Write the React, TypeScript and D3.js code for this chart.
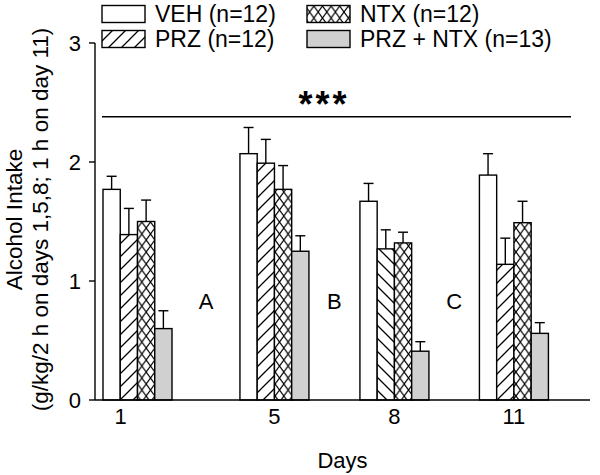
import React from 'react';
import * as d3 from 'd3';

// ---- data ----
const days = ['1', '5', '8', '11'];
const series = ['VEH (n=12)', 'PRZ (n=12)', 'NTX (n=12)', 'PRZ + NTX (n=13)'];
const vehMean = [1.77, 2.07, 1.67, 1.89];
const vehSem = [0.11, 0.22, 0.15, 0.18];
const przMean = [1.39, 1.99, 1.27, 1.14];
const przSem = [0.22, 0.2, 0.16, 0.22];
const ntxMean = [1.5, 1.77, 1.32, 1.49];
const ntxSem = [0.18, 0.2, 0.09, 0.18];
const comboMean = [0.6, 1.25, 0.41, 0.56];
const comboSem = [0.15, 0.13, 0.08, 0.09];
const yTicks = [0, 1, 2, 3];
const gapLabels = ['A', 'B', 'C'];
const sigLabel = '***';
const sigValue = 2.38;
const gapLabelValue = 0.83;

// ---- layout / style ----
const W = 600;
const H = 475;
const FONT = 'Liberation Sans, Arial, Helvetica, sans-serif';
const daySlots = [0, 1.146, 2.15, 3.15];
const tickShift = [-17, 0, 0, 0];
const przHatchDir = ['fwd', 'fwd', 'back', 'fwd'];

export default function App() {
  const y = d3.scaleLinear().domain([0, 3]).range([400, 43]);
  const slot = d3.scaleLinear().domain([0, 3]).range([103, 103 + 3 * 119.5]);
  const groupW = 69;
  const inner = d3.scaleBand<string>().domain(series).range([0, groupW]).padding(0);
  const bw = inner.bandwidth();

  const means = [vehMean, przMean, ntxMean, comboMean];
  const sems = [vehSem, przSem, ntxSem, comboSem];
  const fillFor = (si: number, di: number) => {
    if (si === 0) return '#ffffff';
    if (si === 1) return przHatchDir[di] === 'back' ? 'url(#hatchBack)' : 'url(#hatchFwd)';
    if (si === 2) return 'url(#cross)';
    return '#d0d0d0';
  };

  const axisX0 = 95;
  const axisX1 = 590;
  const sw = 1.4;
  const legendCols = [102, 307];
  const legendRows = [14, 39];

  return (
    <div style={{ position: 'absolute', left: 0, top: 0 }}>
      <svg width={W} height={H} style={{ display: 'block', background: '#fff' }} fontFamily={FONT}>
        <defs>
          <pattern id="hatchFwd" patternUnits="userSpaceOnUse" width={13} height={13}>
            <rect width={13} height={13} fill="#fff" />
            <path d="M-3,3 L3,-3 M0,13 L13,0 M10,16 L16,10" stroke="#000" strokeWidth={1.3} />
          </pattern>
          <pattern id="hatchBack" patternUnits="userSpaceOnUse" width={13} height={13}>
            <rect width={13} height={13} fill="#fff" />
            <path d="M-3,10 L3,16 M0,0 L13,13 M10,-3 L16,3" stroke="#000" strokeWidth={1.3} />
          </pattern>
          <pattern id="cross" patternUnits="userSpaceOnUse" width={8.6} height={12}>
            <rect width={8.6} height={12} fill="#fff" />
            <path d="M0,0 L8.6,12 M0,12 L8.6,0" stroke="#000" strokeWidth={1.2} />
          </pattern>
        </defs>

        {/* bars */}
        {days.map((d, di) => {
          const gx = slot(daySlots[di]);
          return (
            <g key={d}>
              {series.map((s, si) => {
                const v = means[si][di];
                const e = sems[si][di];
                const bx = gx + (inner(s) as number);
                const cx = bx + bw / 2;
                return (
                  <g key={s}>
                    <line x1={cx} x2={cx} y1={y(v)} y2={y(v + e)} stroke="#000" strokeWidth={sw} />
                    <line x1={cx - 5} x2={cx + 5} y1={y(v + e)} y2={y(v + e)} stroke="#000" strokeWidth={sw} />
                    <rect x={bx} y={y(v)} width={bw} height={y(0) - y(v)} fill={fillFor(si, di)} stroke="#000" strokeWidth={sw} />
                  </g>
                );
              })}
            </g>
          );
        })}

        {/* gap letters */}
        {gapLabels.map((g, i) => {
          const endPrev = slot(daySlots[i]) + groupW;
          const startNext = slot(daySlots[i + 1]);
          return (
            <text key={g} x={(endPrev + startNext) / 2} y={y(gapLabelValue)} fontSize={22} textAnchor="middle" dominantBaseline="central">
              {g}
            </text>
          );
        })}

        {/* significance line */}
        <line x1={102} x2={571} y1={y(sigValue)} y2={y(sigValue)} stroke="#000" strokeWidth={sw} />
        <text x={324} y={y(sigValue)} fontSize={36} fontWeight="bold" textAnchor="middle" letterSpacing={3}>
          {sigLabel}
        </text>

        {/* y axis */}
        <line x1={axisX0} x2={axisX0} y1={y(0)} y2={y(3)} stroke="#000" strokeWidth={sw} />
        {yTicks.map((t) => (
          <g key={t}>
            <line x1={axisX0 - 6} x2={axisX0} y1={y(t)} y2={y(t)} stroke="#000" strokeWidth={sw} />
            <text x={81} y={y(t)} fontSize={22} textAnchor="end" dominantBaseline="central">
              {t}
            </text>
          </g>
        ))}

        {/* x axis */}
        <line x1={axisX0} x2={axisX1} y1={y(0)} y2={y(0)} stroke="#000" strokeWidth={sw} />
        {days.map((d, di) => (
          <text key={d} x={slot(daySlots[di]) + groupW / 2 + tickShift[di]} y={y(0) + 16} fontSize={22} textAnchor="middle" dominantBaseline="central">
            {d}
          </text>
        ))}
        <text x={(axisX0 + axisX1) / 2} y={460} fontSize={22} textAnchor="middle" dominantBaseline="central">
          Days
        </text>

        {/* y label */}
        <g transform={`translate(22, ${(y(0) + y(3)) / 2 - 2}) rotate(-90)`}>
          <text x={0} y={0} fontSize={22.5} textAnchor="middle">Alcohol Intake</text>
          <text x={0} y={26} fontSize={22.5} textAnchor="middle">(g/kg/2 h on days 1,5,8; 1 h on day 11)</text>
        </g>

        {/* legend */}
        {series.map((s, i) => {
          const col = i < 2 ? 0 : 1;
          const row = i % 2;
          const lx = legendCols[col];
          const ly = legendRows[row];
          return (
            <g key={s}>
              <rect x={lx} y={ly - 8.5} width={43} height={17} fill={fillFor(i, 0)} stroke="#000" strokeWidth={sw} />
              <text x={lx + 53} y={ly} fontSize={23} dominantBaseline="central">
                {s}
              </text>
            </g>
          );
        })}
      </svg>
    </div>
  );
}
